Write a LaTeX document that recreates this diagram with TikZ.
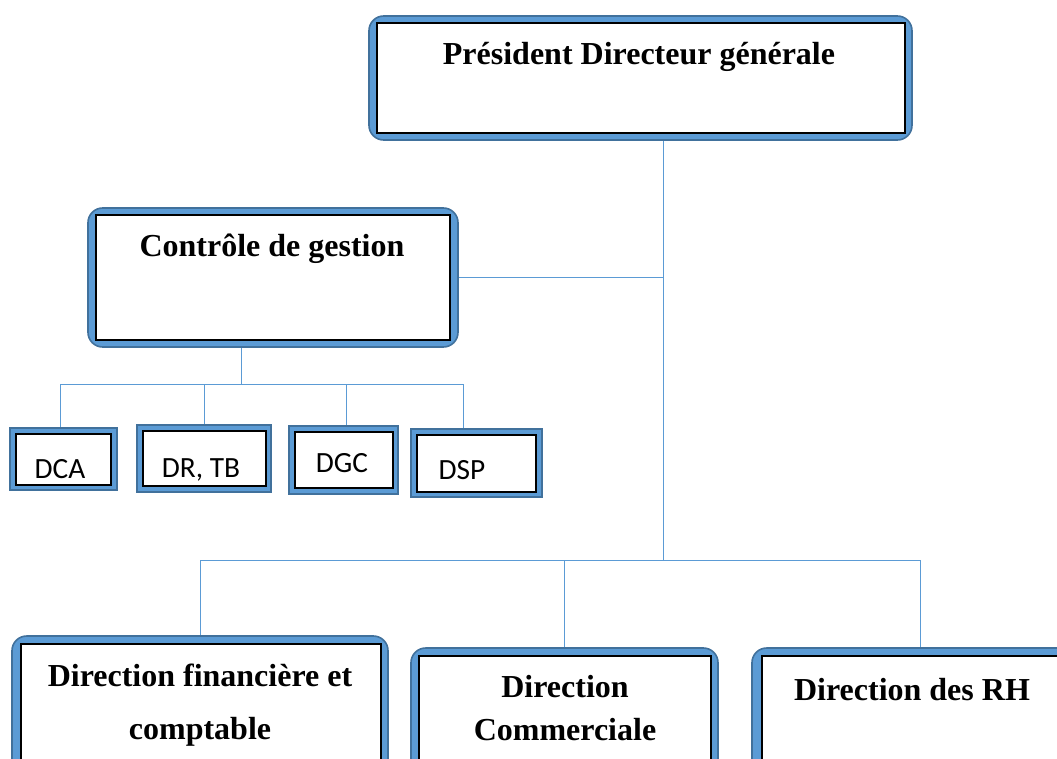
\documentclass[tikz,border=0pt]{standalone}
\usepackage{fontspec}
\setmainfont{Liberation Serif}
\newfontfamily\boxsans{Carlito}
\usetikzlibrary{fit}
\definecolor{frameblue}{HTML}{5B9BD5}
\definecolor{framedark}{HTML}{41719C}
\definecolor{linkblue}{HTML}{5B9BD5}
\tikzset{
  bigframe/.style={fill=frameblue, draw=framedark, line width=1.2pt, rounded corners=11pt, inner sep=0pt},
  smallframe/.style={fill=frameblue, draw=framedark, line width=1.4pt, inner sep=0pt},
  innerbox/.style={fill=white, draw=black, line width=1.5pt, inner sep=0pt},
  title/.style={font=\fontsize{24}{28}\selectfont\bfseries, anchor=base, inner sep=0pt},
  code/.style={font=\boxsans\fontsize{22}{26}\selectfont, anchor=base, inner sep=0pt},
  link/.style={draw=linkblue, line width=0.75pt}
}
\begin{document}
\begin{tikzpicture}[x=0.75pt, y=-0.75pt]
\clip (0,0) rectangle (1057,758);
\fill[white] (0,0) rectangle (1057,758);

% top: president
\node[bigframe, fit={(369,16)(912,140)}] (pdg) {};
\node[innerbox, fit={(377,23)(905,133)}] (pdgin) {};
\node[title] (pdgtxt) at (639,64) {Président Directeur générale};

% management control
\node[bigframe, fit={(88,208)(458,347)}] (cg) {};
\node[innerbox, fit={(96,215)(450,340)}] (cgin) {};
\node[title] (cgtxt) at (272,256) {Contrôle de gestion};

% small units under management control
\node[smallframe, fit={(10,428)(117,490)}] (dca) {};
\node[innerbox, fit={(16,434)(111,485)}] (dcain) {};
\node[code] (dcatxt) at (60,478) {DCA};

\node[smallframe, fit={(137,425)(271,492)}] (drtb) {};
\node[innerbox, fit={(143,431)(266,486)}] (drtbin) {};
\node[code] (drtbtxt) at (201,477) {DR, TB};

\node[smallframe, fit={(289,426)(398,494)}] (dgc) {};
\node[innerbox, fit={(295,432)(393,488)}] (dgcin) {};
\node[code] (dgctxt) at (342,472) {DGC};

\node[smallframe, fit={(411,429)(542,497)}] (dsp) {};
\node[innerbox, fit={(417,435)(536,492)}] (dspin) {};
\node[code] (dsptxt) at (462,479) {DSP};

% bottom directions
\node[bigframe, fit={(12,636)(388,790)}] (df) {};
\node[innerbox, fit={(21,644)(381,782)}] (dfin) {};
\node[title] (dftxta) at (200,686) {Direction financière et};
\node[title] (dftxtb) at (200,739) {comptable};

\node[bigframe, fit={(411,648)(718,790)}] (dc) {};
\node[innerbox, fit={(419,656)(711,782)}] (dcin) {};
\node[title] (dctxta) at (565,697) {Direction};
\node[title] (dctxtb) at (565,740) {Commerciale};

\node[bigframe, fit={(752,648)(1088,790)}] (rh) {};
\node[innerbox, fit={(762,656)(1080,782)}] (rhin) {};
\node[title] (rhtxt) at (912,700) {Direction des RH};

% main trunk and bus
\coordinate (trunk) at (663,560);
\coordinate (cgbus) at (241,384);
\draw[link] (pdg.south -| trunk) -- (trunk);
\draw[link] (cg.east) -- (cg.east -| trunk);
\draw[link] (df.north |- trunk) -- (rh.north |- trunk);
\draw[link] (df.north |- trunk) -- (df.north);
\draw[link] (dc.north |- trunk) -- (dc.north);
\draw[link] (rh.north |- trunk) -- (rh.north);

% control sub-bus
\coordinate (d1) at (60,384);
\coordinate (d2) at (204,384);
\coordinate (d3) at (346,384);
\coordinate (d4) at (463,384);
\draw[link] (cg.south -| cgbus) -- (cgbus);
\draw[link] (d1) -- (d4);
\draw[link] (d1) -- (d1 |- dca.north);
\draw[link] (d2) -- (d2 |- drtb.north);
\draw[link] (d3) -- (d3 |- dgc.north);
\draw[link] (d4) -- (d4 |- dsp.north);
\end{tikzpicture}
\end{document}
